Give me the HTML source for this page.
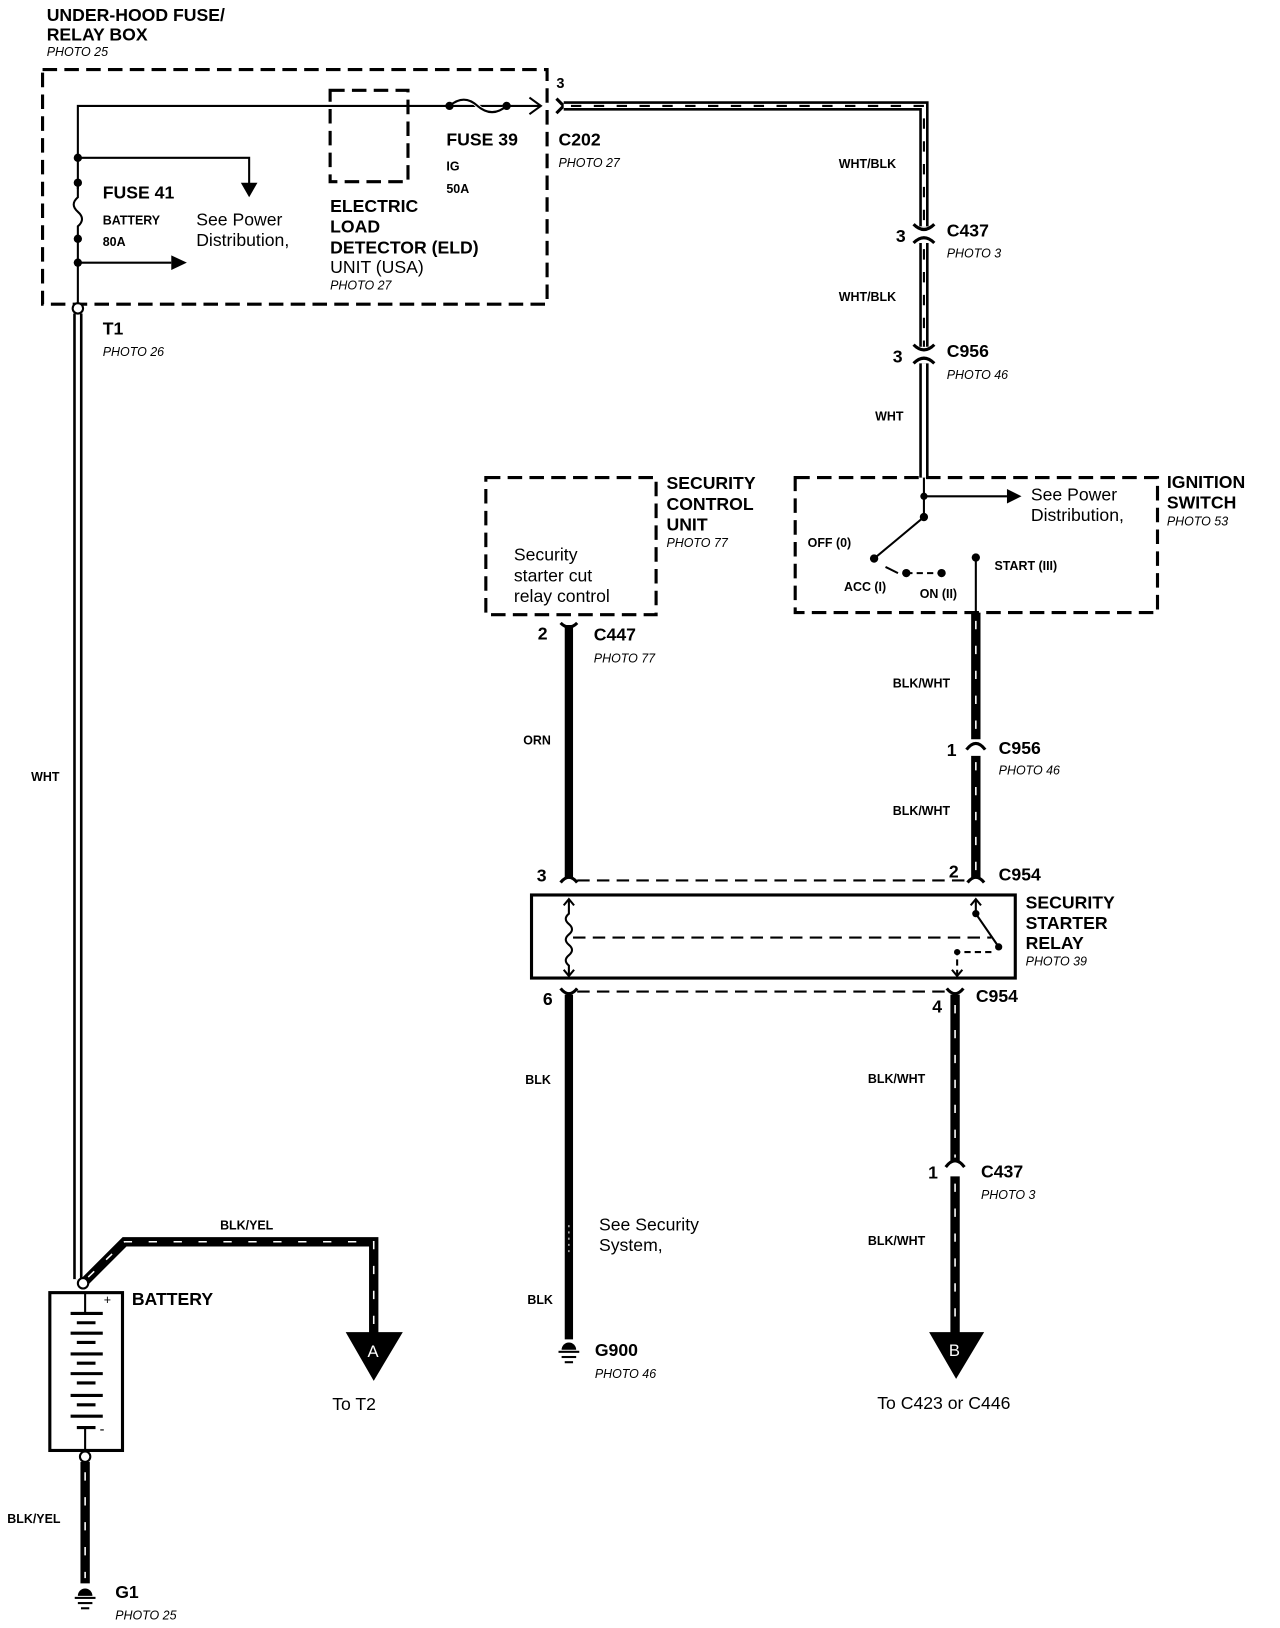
<!DOCTYPE html>
<html><head><meta charset="utf-8"><style>
html,body{margin:0;padding:0;background:#fff}
svg{display:block}
text{font-family:"Liberation Sans",Arial,sans-serif;fill:#000}
.b{font-weight:bold;font-size:17px}
.s{font-weight:bold;font-size:12px}
.i{font-style:italic;font-size:12px}
.r{font-size:17px}
</style></head><body>
<svg width="1280" height="1628" viewBox="0 0 1233 1568" preserveAspectRatio="none" xmlns="http://www.w3.org/2000/svg">
<g fill="none" stroke="#000">
<rect x="41" y="67" width="486" height="226" stroke-width="3" stroke-dasharray="14,7"/>
<rect x="318" y="87" width="75" height="88" stroke-width="3" stroke-dasharray="14,7"/>
<path d="M75 293 V102 H520" stroke-width="2"/>
<path d="M510 94 L521 102 L510 110" stroke-width="2"/>
<path d="M75 152 H240 V178" stroke-width="2"/>
<path d="M75 253 H165" stroke-width="2"/>
<path d="M433 102 q14 -14 27 0 q14 14 28 0" stroke="#fff" stroke-width="4"/>
<path d="M433 102 q14 -12 27 0 q14 12 28 0" stroke-width="2"/>
</g>
<rect x="72" y="182" width="6" height="44" fill="#fff"/>
<path d="M75 176 V190 q-8 7 0 14 q8 7 0 14 V230" fill="none" stroke="#000" stroke-width="2"/>
<g fill="#000">
<polygon points="232,176 248,176 240,190"/>
<polygon points="165,246 165,260 180,253"/>
<circle cx="433" cy="102" r="4"/><circle cx="488" cy="102" r="4"/>
<circle cx="75" cy="152" r="4"/><circle cx="75" cy="176" r="4"/><circle cx="75" cy="230" r="4"/><circle cx="75" cy="253" r="4"/>
</g>
<text class="b" x="45" y="20">UNDER-HOOD FUSE/</text>
<text class="b" x="45" y="39">RELAY BOX</text>
<text class="i" x="45" y="54">PHOTO 25</text>
<text class="s" x="536" y="85" style="font-size:14px">3</text>
<text class="b" x="430" y="140">FUSE 39</text>
<text class="s" x="430" y="164">IG</text>
<text class="s" x="430" y="186">50A</text>
<text class="b" x="538" y="140">C202</text>
<text class="i" x="538" y="161">PHOTO 27</text>
<text class="b" x="99" y="191">FUSE 41</text>
<text class="s" x="99" y="216">BATTERY</text>
<text class="s" x="99" y="237">80A</text>
<text class="r" x="189" y="217">See Power</text>
<text class="r" x="189" y="237">Distribution,</text>
<text class="b" x="318" y="204">ELECTRIC</text>
<text class="b" x="318" y="224">LOAD</text>
<text class="b" x="318" y="244">DETECTOR (ELD)</text>
<text class="r" x="318" y="263">UNIT (USA)</text>
<text class="i" x="318" y="279">PHOTO 27</text>
<path d="M536 95 L543 102 L536 109" fill="none" stroke="#000" stroke-width="3"/>
<g fill="none">
<path d="M543 102 H890 V218" stroke="#000" stroke-width="9"/>
<path d="M543 102 H890 V218" stroke="#fff" stroke-width="4"/>
<path d="M550 102 H890 V218" stroke="#000" stroke-width="2" stroke-dasharray="10,12"/>
<path d="M890 234 V334" stroke="#000" stroke-width="9"/>
<path d="M890 234 V334" stroke="#fff" stroke-width="4"/>
<path d="M890 240 V334" stroke="#000" stroke-width="2" stroke-dasharray="10,12"/>
<path d="M890 350 V460" stroke="#000" stroke-width="9"/>
<path d="M890 350 V460" stroke="#fff" stroke-width="4"/>
<path d="M880 216 q10 10 20 0 M880 234 q10 -10 20 0" stroke="#000" stroke-width="3"/>
<path d="M880 332 q10 10 20 0 M880 350 q10 -10 20 0" stroke="#000" stroke-width="3"/>
<path d="M75 302 V1232" stroke="#000" stroke-width="9"/>
<path d="M75 302 V1232" stroke="#fff" stroke-width="4"/>
</g>
<circle cx="75" cy="297" r="5" fill="#fff" stroke="#000" stroke-width="2"/>
<text class="b" x="99" y="322">T1</text>
<text class="i" x="99" y="343">PHOTO 26</text>
<text class="s" x="30" y="752">WHT</text>
<text class="s" x="808" y="162">WHT/BLK</text>
<text class="b" x="863" y="233">3</text>
<text class="b" x="912" y="228">C437</text>
<text class="i" x="912" y="248">PHOTO 3</text>
<text class="s" x="808" y="290">WHT/BLK</text>
<text class="b" x="860" y="349">3</text>
<text class="b" x="912" y="344">C956</text>
<text class="i" x="912" y="365">PHOTO 46</text>
<text class="s" x="843" y="405">WHT</text>
<rect x="468" y="460" width="164" height="132" fill="none" stroke="#000" stroke-width="3" stroke-dasharray="14,7"/>
<text class="b" x="642" y="471">SECURITY</text>
<text class="b" x="642" y="491">CONTROL</text>
<text class="b" x="642" y="511">UNIT</text>
<text class="i" x="642" y="527">PHOTO 77</text>
<text class="r" x="495" y="540">Security</text>
<text class="r" x="495" y="560">starter cut</text>
<text class="r" x="495" y="580">relay control</text>
<rect x="766" y="460" width="349" height="130" fill="none" stroke="#000" stroke-width="3" stroke-dasharray="14,7"/>
<g fill="none" stroke="#000" stroke-width="2">
<path d="M890 460 V498 L842 538"/>
<path d="M890 478 H970"/>
<path d="M873 552 H907" stroke-dasharray="6,4"/>
<path d="M940 537 V590"/>
<path d="M853 546 L865 552"/>
</g>
<g fill="#000">
<polygon points="970,471 970,485 984,478"/>
<circle cx="890" cy="478" r="3.5"/><circle cx="890" cy="498" r="4"/>
<circle cx="842" cy="538" r="4"/><circle cx="873" cy="552" r="4"/><circle cx="907" cy="552" r="4"/><circle cx="940" cy="537" r="4"/>
</g>
<text class="r" x="993" y="482">See Power</text>
<text class="r" x="993" y="502">Distribution,</text>
<text class="b" x="1124" y="470">IGNITION</text>
<text class="b" x="1124" y="490">SWITCH</text>
<text class="i" x="1124" y="506">PHOTO 53</text>
<text class="s" x="778" y="527">OFF (0)</text>
<text class="s" x="813" y="569">ACC (I)</text>
<text class="s" x="886" y="576">ON (II)</text>
<text class="s" x="958" y="549">START (III)</text>
<g fill="none" stroke="#000">
<path d="M548 602 V845" stroke-width="8"/>
<path d="M540 600 q8 8 16 0" stroke-width="3"/>
<path d="M540 850 q8 -10 16 0" stroke-width="3"/>
<path d="M940 590 V712 M940 728 V845" stroke-width="9"/>
<path d="M940 598 V712 M940 734 V840" stroke="#fff" stroke-width="1.5" stroke-dasharray="8,16"/>
<path d="M931 722 q9 -12 18 0" stroke-width="3"/>
<path d="M932 850 q8 -10 16 0" stroke-width="3"/>
<path d="M556 848 H932" stroke-width="2" stroke-dasharray="12,7"/>
<path d="M556 955 H912" stroke-width="2" stroke-dasharray="12,7"/>
<rect x="512" y="862" width="466" height="80" stroke-width="3"/>
<path d="M548 866 V880 q-6 5 0 10 q6 5 0 10 q-6 5 0 10 q6 5 0 10 q-6 5 0 10 V940" stroke-width="2"/>
<path d="M543 872 L548 866 L553 872 M543 934 L548 940 L553 934" stroke-width="2"/>
<path d="M552 903 H955" stroke-width="2" stroke-dasharray="12,7"/>
<path d="M940 866 V880 L962 912" stroke-width="2"/>
<path d="M935 872 L940 866 L945 872" stroke-width="2"/>
<path d="M922 940 V917 H958" stroke-width="2" stroke-dasharray="6,4"/>
<path d="M917 934 L922 940 L927 934" stroke-width="2"/>
</g>
<circle cx="940" cy="880" r="3.5"/><circle cx="962" cy="912" r="3.5"/><circle cx="922" cy="917" r="3"/>
<text class="b" x="518" y="616">2</text>
<text class="b" x="572" y="617">C447</text>
<text class="i" x="572" y="638">PHOTO 77</text>
<text class="s" x="504" y="717">ORN</text>
<text class="s" x="860" y="662">BLK/WHT</text>
<text class="b" x="912" y="728">1</text>
<text class="b" x="962" y="726">C956</text>
<text class="i" x="962" y="746">PHOTO 46</text>
<text class="s" x="860" y="785">BLK/WHT</text>
<text class="b" x="517" y="849">3</text>
<text class="b" x="914" y="845">2</text>
<text class="b" x="962" y="848">C954</text>
<text class="b" x="988" y="875">SECURITY</text>
<text class="b" x="988" y="895">STARTER</text>
<text class="b" x="988" y="914">RELAY</text>
<text class="i" x="988" y="930">PHOTO 39</text>
<g fill="none" stroke="#000">
<path d="M540 952 q8 10 16 0" stroke-width="3"/>
<path d="M548 958 V1290" stroke-width="8"/>
<path d="M548 1180 V1210" stroke="#fff" stroke-width="1" stroke-dasharray="2,4"/>
<path d="M912 952 q8 10 16 0" stroke-width="3"/>
<path d="M920 958 V1118 M920 1133 V1285" stroke-width="9"/>
<path d="M920 968 V1115 M920 1140 V1280" stroke="#fff" stroke-width="1.5" stroke-dasharray="8,16"/>
<path d="M911 1124 q9 -12 18 0" stroke-width="3"/>
</g>
<polygon points="895,1283 948,1283 921,1328" fill="#000"/>
<text x="914" y="1306" style="font-size:16px;fill:#fff">B</text>
<text class="b" x="523" y="968">6</text>
<text class="b" x="898" y="975">4</text>
<text class="b" x="940" y="965">C954</text>
<text class="s" x="506" y="1044">BLK</text>
<text class="s" x="836" y="1043">BLK/WHT</text>
<text class="b" x="894" y="1135">1</text>
<text class="b" x="945" y="1134">C437</text>
<text class="i" x="945" y="1155">PHOTO 3</text>
<text class="s" x="836" y="1199">BLK/WHT</text>
<text class="r" x="577" y="1185">See Security</text>
<text class="r" x="577" y="1205">System,</text>
<text class="s" x="508" y="1256">BLK</text>
<text class="r" x="845" y="1357">To C423 or C446</text>
<g fill="#000">
<path d="M541 1300 a7 7 0 0 1 14 0 z"/>
<rect x="538" y="1301" width="20" height="2"/><rect x="541" y="1306" width="14" height="2"/><rect x="544" y="1311" width="8" height="2"/>
</g>
<text class="b" x="573" y="1306">G900</text>
<text class="i" x="573" y="1327">PHOTO 46</text>
<g fill="none" stroke="#000">
<path d="M80 1236 L120 1196 H360 V1285" stroke-width="9"/>
<path d="M85 1230 L120 1196 H360 V1280" stroke="#fff" stroke-width="1.5" stroke-dasharray="8,16"/>
<rect x="48" y="1245" width="70" height="152" stroke-width="3"/>
<path d="M82 1245 V1265 M82 1375 V1397" stroke-width="2"/>
<path d="M68 1265 H99 M74 1274 H92 M68 1284 H99 M74 1293 H92 M68 1304 H99 M74 1313 H92 M68 1323 H99 M74 1332 H92 M68 1344 H99 M74 1353 H92 M68 1364 H99 M74 1375 H92" stroke-width="3"/>
<path d="M82 1408 V1525" stroke-width="9"/>
<path d="M82 1418 V1520" stroke="#fff" stroke-width="1.5" stroke-dasharray="8,16"/>
</g>
<polygon points="333,1283 388,1283 360,1330" fill="#000"/>
<text x="354" y="1307" style="font-size:16px;fill:#fff">A</text>
<circle cx="80" cy="1236" r="5" fill="#fff" stroke="#000" stroke-width="2"/>
<circle cx="82" cy="1403" r="5" fill="#fff" stroke="#000" stroke-width="2"/>
<text x="100" y="1256" style="font-size:12px">+</text>
<text x="96" y="1381" style="font-size:14px">-</text>
<text class="b" x="127" y="1257">BATTERY</text>
<text class="r" x="320" y="1358">To T2</text>
<text class="s" x="212" y="1184">BLK/YEL</text>
<text class="s" x="7" y="1467">BLK/YEL</text>
<g fill="#000">
<path d="M75 1537 a7 7 0 0 1 14 0 z"/>
<rect x="72" y="1538" width="20" height="2"/><rect x="75" y="1543" width="14" height="2"/><rect x="78" y="1548" width="8" height="2"/>
</g>
<text class="b" x="111" y="1539">G1</text>
<text class="i" x="111" y="1560">PHOTO 25</text>
</svg>
</body></html>
